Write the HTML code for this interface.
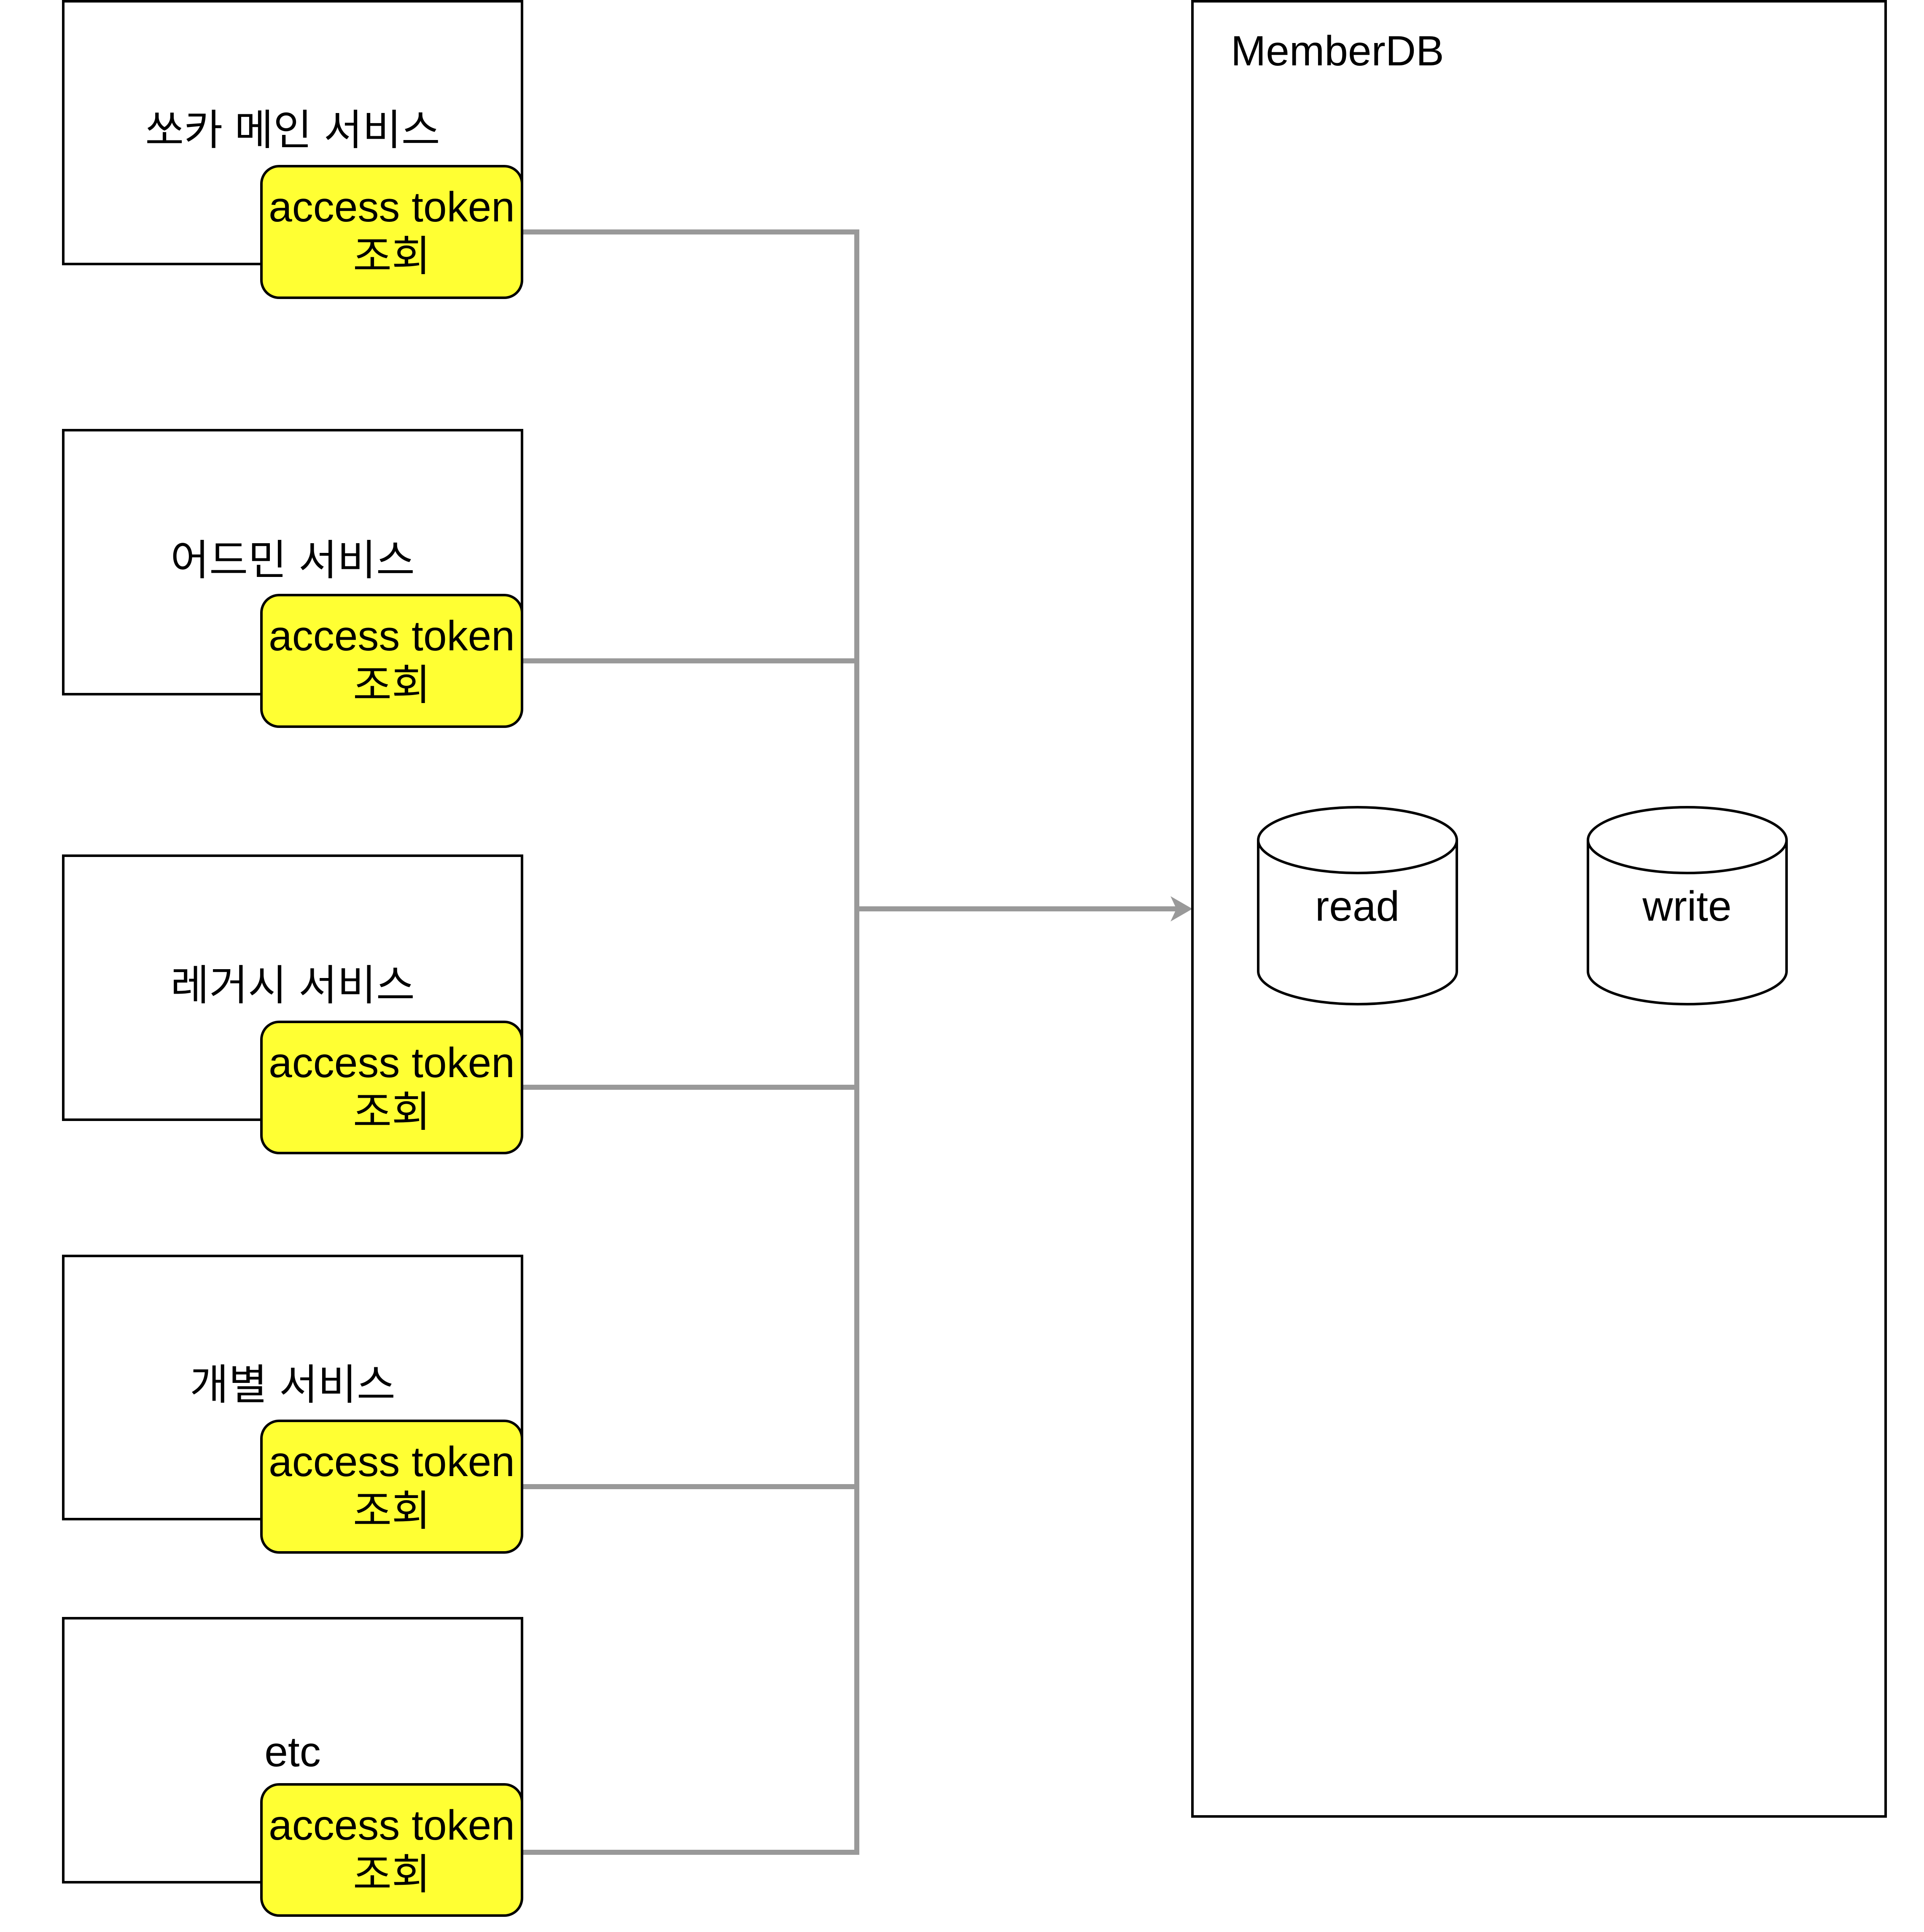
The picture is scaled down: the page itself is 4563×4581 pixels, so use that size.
<!DOCTYPE html>
<html><head><meta charset="utf-8"><style>html,body{margin:0;padding:0;background:#fff;}svg{display:block;}</style></head>
<body>
<svg width="4563" height="4581" viewBox="0 0 4563 4581" xmlns="http://www.w3.org/2000/svg" font-family="Liberation Sans, Noto Sans CJK KR, sans-serif" font-size="100" text-anchor="middle">
<g fill="none" stroke="#999" stroke-width="12">
<polyline points="1238,550 2032,550 2032,4392 1238,4392"/>
<line x1="1238" y1="1567" x2="2032" y2="1567"/>
<line x1="1238" y1="2578" x2="2032" y2="2578"/>
<line x1="1238" y1="3525" x2="2032" y2="3525"/>
<line x1="2032" y1="2155" x2="2800" y2="2155"/>
</g>
<polygon points="2828,2155 2776,2125 2790,2155 2776,2185" fill="#999"/>
<g stroke="#000" stroke-width="6" fill="#fff">
<rect x="150" y="3" width="1088" height="623"/>
<rect x="150" y="1020" width="1088" height="626"/>
<rect x="150" y="2029" width="1088" height="626"/>
<rect x="150" y="2978" width="1088" height="624"/>
<rect x="150" y="3837" width="1088" height="626"/>
<rect x="2828" y="3" width="1644" height="4304"/>
</g>
<g stroke="#000" stroke-width="6" fill="#ffff33">
<rect x="620" y="394" width="618" height="312" rx="42"/>
<rect x="620" y="1411" width="618" height="312" rx="42"/>
<rect x="620" y="2423" width="618" height="311" rx="42"/>
<rect x="620" y="3369" width="618" height="312" rx="42"/>
<rect x="620" y="4231" width="618" height="311" rx="42"/>
</g>
<g fill="#000">
<text x="694" y="343">쏘카 메인 서비스</text>
<text x="694" y="1363">어드민 서비스</text>
<text x="694" y="2371">레거시 서비스</text>
<text x="694" y="3318">개별 서비스</text>
<text x="694" y="4188">etc</text>
<g>
<text x="929" y="525">access token</text><text x="929" y="642">조회</text>
<text x="929" y="1542">access token</text><text x="929" y="1659">조회</text>
<text x="929" y="2554">access token</text><text x="929" y="2671">조회</text>
<text x="929" y="3500">access token</text><text x="929" y="3617">조회</text>
<text x="929" y="4362">access token</text><text x="929" y="4479">조회</text>
</g>
<text x="2919" y="155" text-anchor="start">MemberDB</text>
</g>
<g stroke="#000" stroke-width="6" fill="#fff">
<path d="M2984,1992 L2984,2303 A235.5,78 0 0 0 3455,2303 L3455,1992 A235.5,78 0 0 0 2984,1992 Z"/>
<path d="M2984,1992 A235.5,78 0 0 0 3455,1992"/>
<path d="M3766,1992 L3766,2303 A235.5,78 0 0 0 4237,2303 L4237,1992 A235.5,78 0 0 0 3766,1992 Z"/>
<path d="M3766,1992 A235.5,78 0 0 0 4237,1992"/>
</g>
<text x="3219" y="2183">read</text>
<text x="4001" y="2183">write</text>
</svg>
</body></html>
